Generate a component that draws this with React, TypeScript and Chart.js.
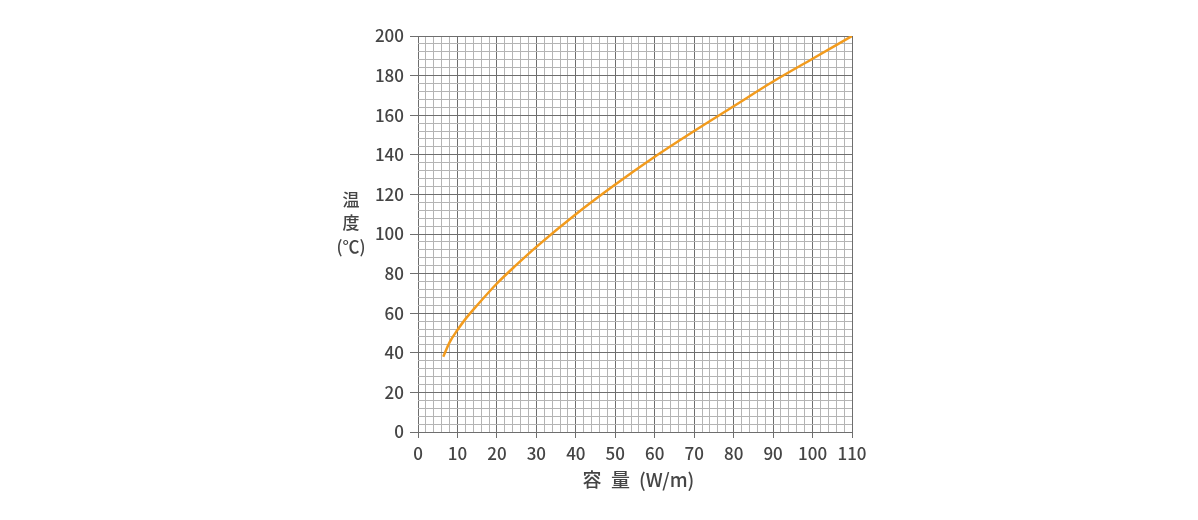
import React, { useEffect, useRef } from "react";
import { Chart, registerables } from "chart.js";

Chart.register(...registerables);

const capacity = [6.4, 8, 10, 12, 15, 20, 25, 30, 40, 50, 60, 70, 80, 90, 100, 110];
const temperature = [38, 45.3, 51.5, 57, 64, 75, 84.5, 93.5, 110, 125, 139, 152, 164.5, 177, 188.5, 200];
const xTitleParts = ["容", "量", "(W/m)"];
const yTitleLines = ["温", "度", "(℃)"];

const FONT = "'Noto Sans CJK JP', 'Noto Sans', sans-serif";
const TEXT = "#454545";

const titlePlugin = {
  id: "axisTitles",
  afterDraw(chart: any) {
    const { ctx } = chart;
    ctx.save();
    ctx.fillStyle = TEXT;
    ctx.textBaseline = "middle";
    ctx.font = `500 19px ${FONT}`;
    ctx.textAlign = "center";
    ctx.fillText(xTitleParts[0], 592, 480);
    ctx.fillText(xTitleParts[1], 620.5, 480);
    ctx.textAlign = "left";
    ctx.fillText(xTitleParts[2], 639, 480);
    ctx.textAlign = "center";
    ctx.font = `500 17px ${FONT}`;
    const ys = [200, 223, 247];
    yTitleLines.forEach((t, i) => ctx.fillText(t, 351, ys[i]));
    ctx.restore();
  },
};

export default function App() {
  const ref = useRef<HTMLCanvasElement>(null);
  useEffect(() => {
    const chart = new Chart(ref.current!, {
      type: "line",
      data: {
        datasets: [
          {
            data: capacity.map((x, i) => ({ x, y: temperature[i] })),
            borderColor: "#f29b1d",
            borderWidth: 2.5,
            pointRadius: 0,
            cubicInterpolationMode: "monotone",
          },
        ],
      },
      options: {
        animation: false,
        responsive: false,
        maintainAspectRatio: false,
        layout: { padding: { left: 358, right: 346, top: 36, bottom: 28 } },
        plugins: { legend: { display: false }, tooltip: { enabled: false } },
        scales: {
          x: {
            type: "linear",
            min: 0,
            max: 110,
            afterFit: (s: any) => { s.height = 60; },
            border: { display: false },
            grid: {
              color: (c: any) => (c.tick && c.tick.value % 10 === 0 ? "#6e6e6e" : "#b4b4b4"),
              tickColor: (c: any) => (c.tick && c.tick.value % 10 === 0 ? "#6e6e6e" : "rgba(0,0,0,0)"),
              tickLength: 6,
              lineWidth: 1,
            },
            ticks: {
              stepSize: 2,
              autoSkip: false,
              maxRotation: 0,
              padding: 5,
              color: TEXT,
              font: { family: FONT, size: 17, weight: "500" },
              callback: (v: any) => (v % 10 === 0 ? String(v) : ""),
            },
          },
          y: {
            type: "linear",
            min: 0,
            max: 200,
            afterFit: (s: any) => { s.width = 60; },
            border: { display: false },
            grid: {
              color: (c: any) => (c.tick && c.tick.value % 20 === 0 ? "#6e6e6e" : "#b4b4b4"),
              tickColor: (c: any) => (c.tick && c.tick.value % 20 === 0 ? "#6e6e6e" : "rgba(0,0,0,0)"),
              tickLength: 8,
              lineWidth: 1,
            },
            ticks: {
              stepSize: 4,
              autoSkip: false,
              padding: 6,
              color: TEXT,
              font: { family: FONT, size: 17, weight: "500" },
              callback: (v: any) => (v % 20 === 0 ? String(v) : ""),
            },
          },
        },
      },
      plugins: [titlePlugin],
    } as any);
    return () => chart.destroy();
  }, []);
  return (
    <div style={{ position: "absolute", left: 0, top: 0, width: 1198, height: 520, background: "#fff" }}>
      <canvas ref={ref} width={1198} height={520} style={{ width: 1198, height: 520 }} />
    </div>
  );
}
